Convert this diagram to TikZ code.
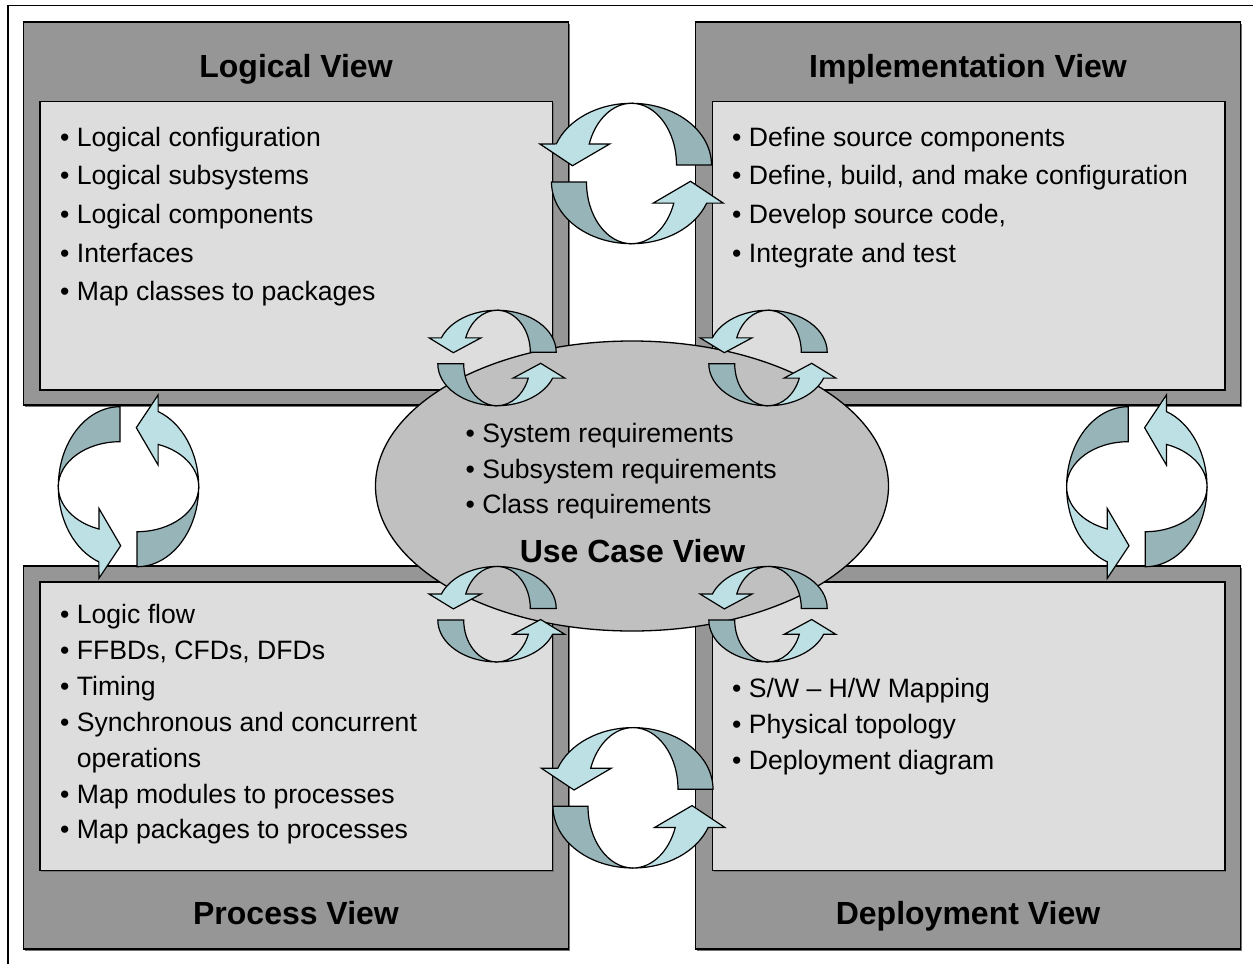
\documentclass[tikz,border=0pt]{standalone}
\usepackage{fontspec}
\setmainfont{Liberation Sans}
\usetikzlibrary{shapes.geometric,shadows}

\definecolor{framegray}{RGB}{150,150,150}
\definecolor{panelgray}{RGB}{221,221,221}
\definecolor{hubgray}{RGB}{192,192,192}
\definecolor{ringfront}{HTML}{BDE0E4}
\definecolor{ringback}{HTML}{97B4B8}

% one half of a pair of cycle arrows, local y axis pointing up, origin at the centre
\newcommand\ringhalf{%
  \draw[ringedge,fill=ringback] (0,70.2)
    arc[start angle=90,end angle=0,x radius=80pt,y radius=61.7pt]
    -- (45,8.5)
    arc[start angle=0,end angle=90,x radius=45pt,y radius=61.7pt] -- cycle;
  \draw[ringedge,fill=ringfront] (0,70.2)
    arc[start angle=90,end angle=160,x radius=80pt,y radius=61.7pt]
    -- (-91.7,29.6) -- (-59,7.8) -- (-21.7,29.6) -- (-42.29,29.6)
    arc[start angle=160,end angle=90,x radius=45pt,y radius=61.7pt] -- cycle;
}

\tikzset{
  ringedge/.style={draw=black,line width=1.2pt},
  pics/cyclearrows/.style={code={
    \begin{scope}[x=1pt,y=1pt]
      \ringhalf
      \begin{scope}[rotate=180]\ringhalf\end{scope}
    \end{scope}
  }},
  viewframe/.style={rectangle,draw=black,line width=1.5pt,fill=framegray,
    drop shadow={shadow xshift=1.5pt,shadow yshift=-1.5pt,fill=black!55,opacity=1},
    inner sep=0pt,minimum width=544.8pt,minimum height=383pt},
  viewpanel/.style={rectangle,draw=black,line width=1.4pt,fill=panelgray,
    drop shadow={shadow xshift=1.2pt,shadow yshift=-1.2pt,fill=black!55,opacity=1},
    inner sep=0pt,minimum width=512.7pt,minimum height=288.3pt},
  hub/.style={ellipse,draw=black,line width=1.3pt,fill=hubgray,inner sep=0pt,
    minimum width=513pt,minimum height=290pt},
  item/.style={anchor=base west,inner sep=0pt,font=\fontsize{26.6pt}{32pt}\selectfont},
  viewtitle/.style={anchor=base,inner sep=0pt,font=\bfseries\fontsize{32pt}{38pt}\selectfont},
}

\begin{document}
\begin{tikzpicture}[x=1pt,y=-1pt]
\useasboundingbox (0,0) rectangle (1253,964);
\fill[white] (0,0) rectangle (1253,964);
\draw[line width=1.2pt] (8,964) -- (8,5.5) -- (1253,5.5);

% the four views
\node[viewframe] (logicalframe) at (295.9,213.5) {};
\node[viewpanel] (logicalpanel) at (296.35,245.85) {};
\node[viewframe] (implframe) at (968.1,213.5) {};
\node[viewpanel] (implpanel) at (968.65,245.85) {};
\node[viewframe] (processframe) at (295.9,757.7) {};
\node[viewpanel] (processpanel) at (296.35,726.2) {};
\node[viewframe] (deployframe) at (968.1,757.7) {};
\node[viewpanel] (deploypanel) at (968.65,726.2) {};

% use case hub
\node[hub] (usecase) at (632,486) {};

% titles
\node[viewtitle] (logicaltitle) at (296,77.5) {Logical View};
\node[viewtitle] (impltitle) at (968,77.5) {Implementation View};
\node[viewtitle] (processtitle) at (296,924.5) {Process View};
\node[viewtitle] (deploytitle) at (968,924.5) {Deployment View};
\node[viewtitle] (usecasetitle) at (632.5,562.5) {Use Case View};

% logical view items
\node[item] (l1) at (60,146.5) {• Logical configuration};
\node[item] (l2) at (60,184.5) {• Logical subsystems};
\node[item] (l3) at (60,223.5) {• Logical components};
\node[item] (l4) at (60,262.5) {• Interfaces};
\node[item] (l5) at (60,300.5) {• Map classes to packages};

% implementation view items
\node[item] (i1) at (732,146.5) {• Define source components};
\node[item] (i2) at (732,184.5) {• Define, build, and make configuration};
\node[item] (i3) at (732,223.5) {• Develop source code,};
\node[item] (i4) at (732,262.5) {• Integrate and test};

% process view items
\node[item] (p1) at (60,623.5) {• Logic flow};
\node[item] (p2) at (60,659.5) {• FFBDs, CFDs, DFDs};
\node[item] (p3) at (60,695.5) {• Timing};
\node[item] (p4) at (60,731.5) {• Synchronous and concurrent};
\node[item] (p4b) at (76.7,767.5) {operations};
\node[item] (p5) at (60,803.5) {• Map modules to processes};
\node[item] (p6) at (60,838.5) {• Map packages to processes};

% deployment view items
\node[item] (d1) at (732,697.5) {• S/W – H/W Mapping};
\node[item] (d2) at (732,733.5) {• Physical topology};
\node[item] (d3) at (732,769.5) {• Deployment diagram};

% use case items
\node[item] (u1) at (465.5,442.5) {• System requirements};
\node[item] (u2) at (465.5,478) {• Subsystem requirements};
\node[item] (u3) at (465.5,513.5) {• Class requirements};

% cycle arrows between neighbouring views
\pic at (631.5,173.5) {cyclearrows};
\pic at (633,797.8) {cyclearrows};
\pic[rotate=90] at (128.5,486.7) {cyclearrows};
\pic[rotate=90] at (1136.8,486.7) {cyclearrows};

% cycle arrows between the hub and each view
\pic[xscale=0.74,yscale=0.68] at (497,358) {cyclearrows};
\pic[xscale=0.74,yscale=0.68] at (768,358) {cyclearrows};
\pic[xscale=0.74,yscale=0.68] at (497,614.2) {cyclearrows};
\pic[xscale=0.74,yscale=0.68] at (768,614.2) {cyclearrows};
\end{tikzpicture}
\end{document}
